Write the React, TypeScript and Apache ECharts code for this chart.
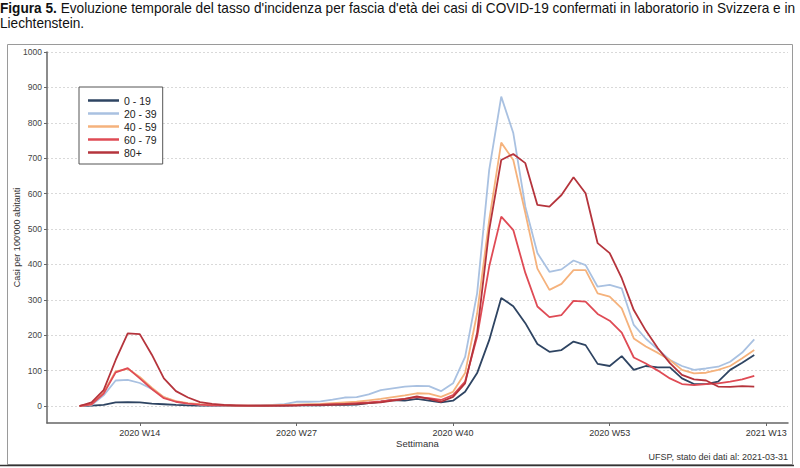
import React, { useEffect, useRef } from "react";
import * as echarts from "echarts";

const weeks = [
  "2020 W09", "2020 W10", "2020 W11", "2020 W12", "2020 W13", "2020 W14", "2020 W15", "2020 W16", "2020 W17", "2020 W18", "2020 W19",
  "2020 W20", "2020 W21", "2020 W22", "2020 W23", "2020 W24", "2020 W25", "2020 W26", "2020 W27", "2020 W28", "2020 W29",
  "2020 W30", "2020 W31", "2020 W32", "2020 W33", "2020 W34", "2020 W35", "2020 W36", "2020 W37", "2020 W38", "2020 W39",
  "2020 W40", "2020 W41", "2020 W42", "2020 W43", "2020 W44", "2020 W45", "2020 W46", "2020 W47", "2020 W48", "2020 W49",
  "2020 W50", "2020 W51", "2020 W52", "2020 W53",
  "2021 W01", "2021 W02", "2021 W03", "2021 W04", "2021 W05", "2021 W06", "2021 W07", "2021 W08", "2021 W09", "2021 W10", "2021 W11", "2021 W12",
];

const age0_19 = [
  0, 1, 3, 10, 11, 10, 7, 5, 3, 2, 1,
  1, 1, 0, 0, 0, 1, 1, 2, 2, 2,
  3, 3, 4, 8, 12, 17, 15, 20, 15, 10,
  15, 40, 93, 186, 305, 282, 234, 175, 153, 158,
  182, 172, 119, 113,
  141, 102, 113, 109, 109, 78, 62, 62, 69, 102, 122, 144,
];
const age20_39 = [
  0, 3, 30, 72, 74, 65, 48, 25, 12, 7, 4,
  2, 2, 1, 1, 2, 3, 5, 12, 12, 13,
  18, 24, 25, 33, 45, 50, 55, 57, 56, 42,
  64, 139, 319, 667, 874, 771, 563, 432, 379, 386,
  411, 398, 337, 342,
  332, 229, 190, 160, 130, 113, 102, 106, 111, 125, 151, 188,
];
const age40_59 = [
  0, 5, 38, 98, 105, 82, 52, 25, 14, 8, 5,
  3, 2, 1, 1, 1, 2, 3, 4, 5, 6,
  8, 10, 12, 16, 20, 25, 30, 36, 35, 26,
  40, 93, 262, 525, 744, 695, 545, 388, 328, 345,
  384, 384, 318, 309,
  276, 191, 168, 150, 130, 102, 92, 94, 102, 113, 135, 158,
];
const age60_79 = [
  0, 5, 35, 95, 107, 78, 48, 22, 12, 7, 4,
  2, 2, 1, 1, 1, 1, 2, 2, 3, 4,
  5, 6, 8, 10, 13, 17, 20, 25, 22, 17,
  31, 69, 196, 394, 535, 497, 376, 281, 251, 257,
  297, 295, 260, 241,
  207, 137, 120, 100, 78, 62, 59, 62, 64, 69, 75, 85,
];
const age80plus = [
  0, 10, 45, 130, 205, 203, 145, 78, 42, 24, 11,
  6, 3, 2, 1, 1, 1, 1, 2, 3, 3,
  4, 5, 6, 8, 10, 15, 20, 27, 20, 12,
  26, 64, 206, 497, 695, 712, 686, 568, 563, 596,
  646, 601, 460, 432,
  361, 271, 213, 163, 121, 88, 75, 72, 55, 54, 56, 55,
];

const seriesNames = ["0 - 19", "20 - 39", "40 - 59", "60 - 79", "80+"];
const seriesValues = [age0_19, age20_39, age40_59, age60_79, age80plus];
const seriesColors = ["#2e4462", "#a9c1e1", "#f5b27c", "#df4b55", "#b5343c"];

const xTickLabels = ["2020 W14", "2020 W27", "2020 W40", "2020 W53", "2021 W13"];
const yTickValues = [0, 100, 200, 300, 400, 500, 600, 700, 800, 900, 1000];

// position of a week label on a continuous week scale (2020 W01 = 1, 2021 W01 = 54)
function weekPos(label: string): number {
  const [year, w] = label.split(" W");
  const n = parseInt(w, 10);
  return year === "2021" ? 53 + n : n;
}

const xTickValues = xTickLabels.map(weekPos);

const FONT = "'Liberation Sans', Arial, sans-serif";

export default function App() {
  const ref = useRef<HTMLDivElement>(null);

  useEffect(() => {
    document.body.style.margin = "0";
    const chart = echarts.init(ref.current!, null, { renderer: "svg" });
    const option: any = {
      animation: false,
      backgroundColor: "#ffffff",
      textStyle: { fontFamily: FONT },
      grid: { left: 47, right: 12, top: 52, bottom: 45, containLabel: false, outerBoundsMode: "none" },
      xAxis: {
        type: "value",
        min: 6.3,
        max: 67.8,
        name: "Settimana",
        nameLocation: "middle",
        nameGap: 15,
        nameMoveOverlap: false,
        nameTextStyle: { fontSize: 9.5, color: "#333", fontFamily: FONT },
        axisLine: { show: true, onZero: false, lineStyle: { color: "#666", width: 1.5 } },
        axisTick: { show: true, customValues: xTickValues, length: 3, lineStyle: { color: "#666", width: 1 } },
        axisLabel: {
          customValues: xTickValues,
          formatter: (v: number) => {
            const i = xTickValues.indexOf(v);
            return i >= 0 ? xTickLabels[i] : "";
          },
          fontSize: 9,
          color: "#333",
          margin: 5,
          fontFamily: FONT,
        },
        splitLine: { show: false },
      },
      yAxis: {
        type: "value",
        min: -48,
        max: 1000,
        name: "Casi per 100'000 abitanti",
        nameLocation: "middle",
        nameGap: 26,
        nameMoveOverlap: false,
        nameTextStyle: { fontSize: 9, color: "#333", fontFamily: FONT },
        axisLine: { show: true, onZero: false, lineStyle: { color: "#666", width: 1.5 } },
        axisTick: { show: true, customValues: yTickValues, length: 3, lineStyle: { color: "#666", width: 1 } },
        axisLabel: {
          customValues: yTickValues,
          formatter: (v: number) => String(v),
          fontSize: 8.5,
          color: "#444",
          margin: 5,
          fontFamily: FONT,
        },
        splitLine: { show: true, lineStyle: { color: "#d9d9d9", width: 1, type: [2, 2] } },
      },
      legend: {
        orient: "vertical",
        left: 79,
        top: 87,
        padding: [7, 6, 5, 9],
        itemGap: 0,
        itemWidth: 31,
        itemHeight: 2.5,
        icon: "rect",
        borderColor: "#555",
        borderWidth: 1,
        backgroundColor: "#ffffff",
        textStyle: { fontSize: 10.5, lineHeight: 13, color: "#222", fontFamily: FONT },
        data: seriesNames,
      },
      series: seriesNames.map((name, k) => ({
        name,
        type: "line",
        showSymbol: false,
        symbol: "none",
        lineStyle: { color: seriesColors[k], width: 1.8 },
        itemStyle: { color: seriesColors[k] },
        data: weeks.map((w, i) => [weekPos(w), seriesValues[k][i]]),
        z: 2 + k,
      })),
      graphic: [
        {
          type: "text",
          x: 0,
          y: 1,
          scaleX: 0.975,
          style: {
            text: "{b|Figura 5.} Evoluzione temporale del tasso d'incidenza per fascia d'età dei casi di COVID-19 confermati in laboratorio in Svizzera e in",
            fontSize: 14,
            fontFamily: FONT,
            fill: "#111",
            rich: {
              b: { fontSize: 14, fontFamily: FONT, fontWeight: "bold", fill: "#111" },
            },
          },
        },
        {
          type: "text",
          x: 0,
          y: 16,
          scaleX: 0.975,
          style: { text: "Liechtenstein.", fontSize: 14, fontFamily: FONT, fill: "#111" },
        },
        {
          type: "rect",
          shape: { x: 7.5, y: 44.5, width: 785, height: 420 },
          style: { fill: "none", stroke: "#9a9a9a", lineWidth: 1 },
          silent: true,
        },
        {
          type: "line",
          shape: { x1: 0, y1: 465.5, x2: 794, y2: 465.5 },
          style: { stroke: "#333", lineWidth: 1.5 },
          silent: true,
        },
        {
          type: "text",
          x: 788,
          y: 457,
          style: {
            text: "UFSP, stato dei dati al: 2021-03-31",
            fontSize: 9,
            fontFamily: FONT,
            fill: "#333",
            textAlign: "right",
            textVerticalAlign: "middle",
          },
        },
      ],
    };
    chart.setOption(option);
    return () => chart.dispose();
  }, []);

  return (
    <div
      ref={ref}
      style={{ position: "absolute", left: 0, top: 0, width: 800, height: 468 }}
    />
  );
}
